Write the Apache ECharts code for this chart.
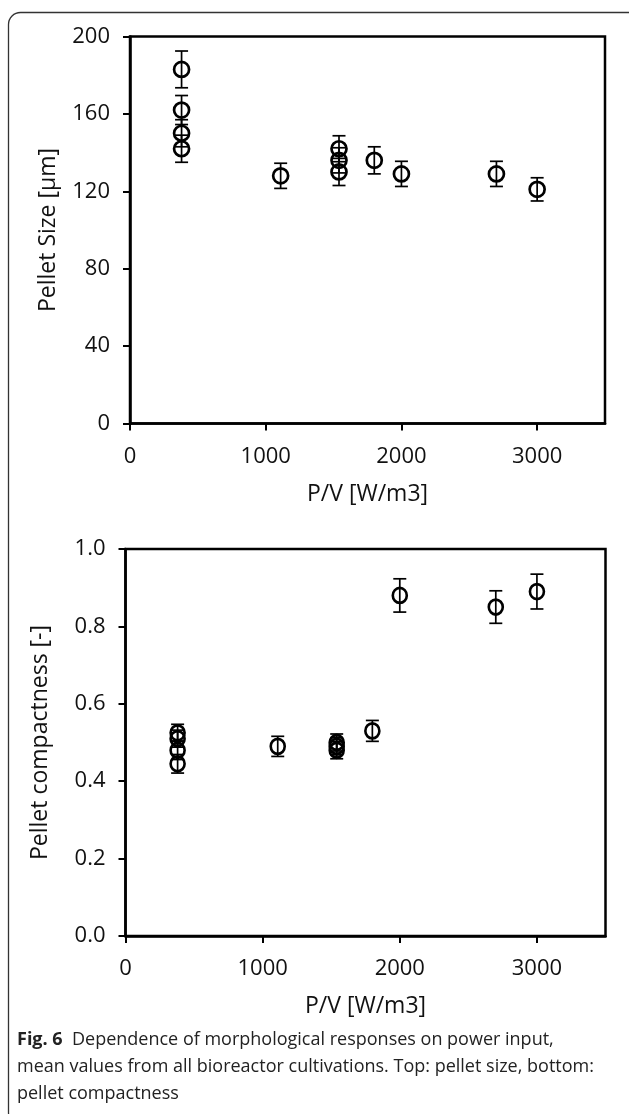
<!DOCTYPE html>
<html>
<head>
<meta charset="utf-8">
<script src="https://cdn.jsdelivr.net/npm/echarts@6/dist/echarts.min.js"></script>
<style>
  html, body { margin: 0; padding: 0; background: #fff; }
  #chart { width: 629px; height: 1114px; }
</style>
</head>
<body>
<div id="chart"></div>
<script>
// Power input per volume (W/m3) for each cultivation condition
const powerInput = [380, 380, 380, 380, 1110, 1540, 1540, 1540, 1800, 2000, 2700, 3000];

// Top panel: mean pellet size (µm) and its error
const pelletSize = [183, 162, 150, 142, 128, 142, 136, 130, 136, 129, 129, 121];
const pelletSizeErr = [9.5, 7.5, 7, 7, 6.5, 6.7, 6.5, 7, 7, 6.5, 6.5, 6];

// Bottom panel: mean pellet compactness (-) and its error
const compactness = [0.525, 0.51, 0.48, 0.445, 0.49, 0.50, 0.49, 0.48, 0.53, 0.88, 0.85, 0.89];
const compactnessErr = [0.022, 0.022, 0.024, 0.024, 0.026, 0.022, 0.022, 0.022, 0.027, 0.043, 0.042, 0.045];

// Tick values
const xTicks = [0, 1000, 2000, 3000];
const sizeTicks = [0, 40, 80, 120, 160, 200];
const compTicks = [0, 0.2, 0.4, 0.6, 0.8, 1.0];

const captionLines = [
  'Dependence of morphological responses on power input,',
  'mean values from all bioreactor cultivations. Top: pellet size, bottom:',
  'pellet compactness'
];

const FONT = '"Open Sans", sans-serif';

function zip3(xs, ys, es) {
  return xs.map((x, i) => [x, ys[i], es[i]]);
}

// Vertical error bar with caps
function errorBarRenderer(params, api) {
  const x = api.value(0), y = api.value(1), e = api.value(2);
  const top = api.coord([x, y + e]);
  const bot = api.coord([x, y - e]);
  const half = 6.5;
  const style = { stroke: '#000', lineWidth: 1.7 };
  return {
    type: 'group',
    children: [
      { type: 'line', shape: { x1: top[0], y1: top[1], x2: bot[0], y2: bot[1] }, style },
      { type: 'line', shape: { x1: top[0] - half, y1: top[1], x2: top[0] + half, y2: top[1] }, style },
      { type: 'line', shape: { x1: bot[0] - half, y1: bot[1], x2: bot[0] + half, y2: bot[1] }, style }
    ]
  };
}

function xAxisFor(gridIndex) {
  return {
    type: 'value', gridIndex, min: 0, max: 3500, interval: 1000,
    name: 'P/V [W/m3]', nameLocation: 'middle', nameGap: 59,
    nameTextStyle: { fontFamily: FONT, fontSize: 23, color: '#111' },
    axisLine: { show: true, lineStyle: { color: '#000', width: 2.5 } },
    axisTick: { show: true, inside: false, length: 7, customValues: xTicks, lineStyle: { color: '#000', width: 2 } },
    axisLabel: { customValues: xTicks, margin: 22, fontFamily: FONT, fontSize: 22, color: '#111', formatter: v => String(v) },
    splitLine: { show: false }
  };
}

function yAxisFor(gridIndex, max, interval, name, ticks, decimals, gap) {
  return {
    type: 'value', gridIndex, min: 0, max, interval,
    name, nameLocation: 'middle', nameGap: gap,
    nameTextStyle: { fontFamily: FONT, fontSize: 23, color: '#111' },
    axisLine: { show: true, lineStyle: { color: '#000', width: 2.5 } },
    axisTick: { show: true, inside: false, length: 7, customValues: ticks, lineStyle: { color: '#000', width: 2 } },
    axisLabel: {
      customValues: ticks, margin: 20, fontFamily: FONT, fontSize: 22, color: '#111',
      formatter: v => v.toFixed(decimals)
    },
    splitLine: { show: false }
  };
}

const chart = echarts.init(document.getElementById('chart'), null, { renderer: 'canvas' });

const markerStyle = { color: 'transparent', borderColor: '#000', borderWidth: 2.7, opacity: 1 };

chart.setOption({
  backgroundColor: '#fff',
  animation: false,
  grid: [
    { left: 130, top: 36.5, width: 475, height: 387, show: true, borderColor: '#000', borderWidth: 2.5, backgroundColor: 'transparent' },
    { left: 125.5, top: 549, width: 480, height: 387, show: true, borderColor: '#000', borderWidth: 2.5, backgroundColor: 'transparent' }
  ],
  xAxis: [xAxisFor(0), xAxisFor(1)],
  yAxis: [
    yAxisFor(0, 200, 40, 'Pellet Size [µm]', sizeTicks, 0, 70),
    yAxisFor(1, 1.0, 0.2, 'Pellet compactness [-]', compTicks, 1, 74)
  ],
  series: [
    {
      type: 'custom', xAxisIndex: 0, yAxisIndex: 0, z: 2,
      renderItem: errorBarRenderer, data: zip3(powerInput, pelletSize, pelletSizeErr)
    },
    {
      type: 'scatter', xAxisIndex: 0, yAxisIndex: 0, z: 3,
      symbol: 'circle', symbolSize: 15, itemStyle: markerStyle,
      data: powerInput.map((x, i) => [x, pelletSize[i]])
    },
    {
      type: 'custom', xAxisIndex: 1, yAxisIndex: 1, z: 2,
      renderItem: errorBarRenderer, data: zip3(powerInput, compactness, compactnessErr)
    },
    {
      type: 'scatter', xAxisIndex: 1, yAxisIndex: 1, z: 3,
      symbol: 'circle', symbolSize: [14, 15], itemStyle: markerStyle,
      data: powerInput.map((x, i) => [x, compactness[i]])
    }
  ],
  graphic: [
    {
      type: 'rect', silent: true, z: 0,
      shape: { x: 8.5, y: 12.5, width: 640, height: 1112, r: 12 },
      style: { fill: 'none', stroke: '#333', lineWidth: 1.3 }
    },
    {
      type: 'text', left: 17, top: 1031,
      style: {
        text: '{b|Fig. 6}  ' + captionLines[0],
        font: '18px ' + FONT, fill: '#222',
        rich: { b: { fontWeight: 'bold', fontFamily: FONT, fontSize: 18, fill: '#222' } }
      }
    },
    {
      type: 'text', left: 17, top: 1058,
      style: { text: captionLines[1], font: '18px ' + FONT, fill: '#222' }
    },
    {
      type: 'text', left: 17, top: 1085,
      style: { text: captionLines[2], font: '18px ' + FONT, fill: '#222' }
    }
  ]
});
</script>
</body>
</html>
